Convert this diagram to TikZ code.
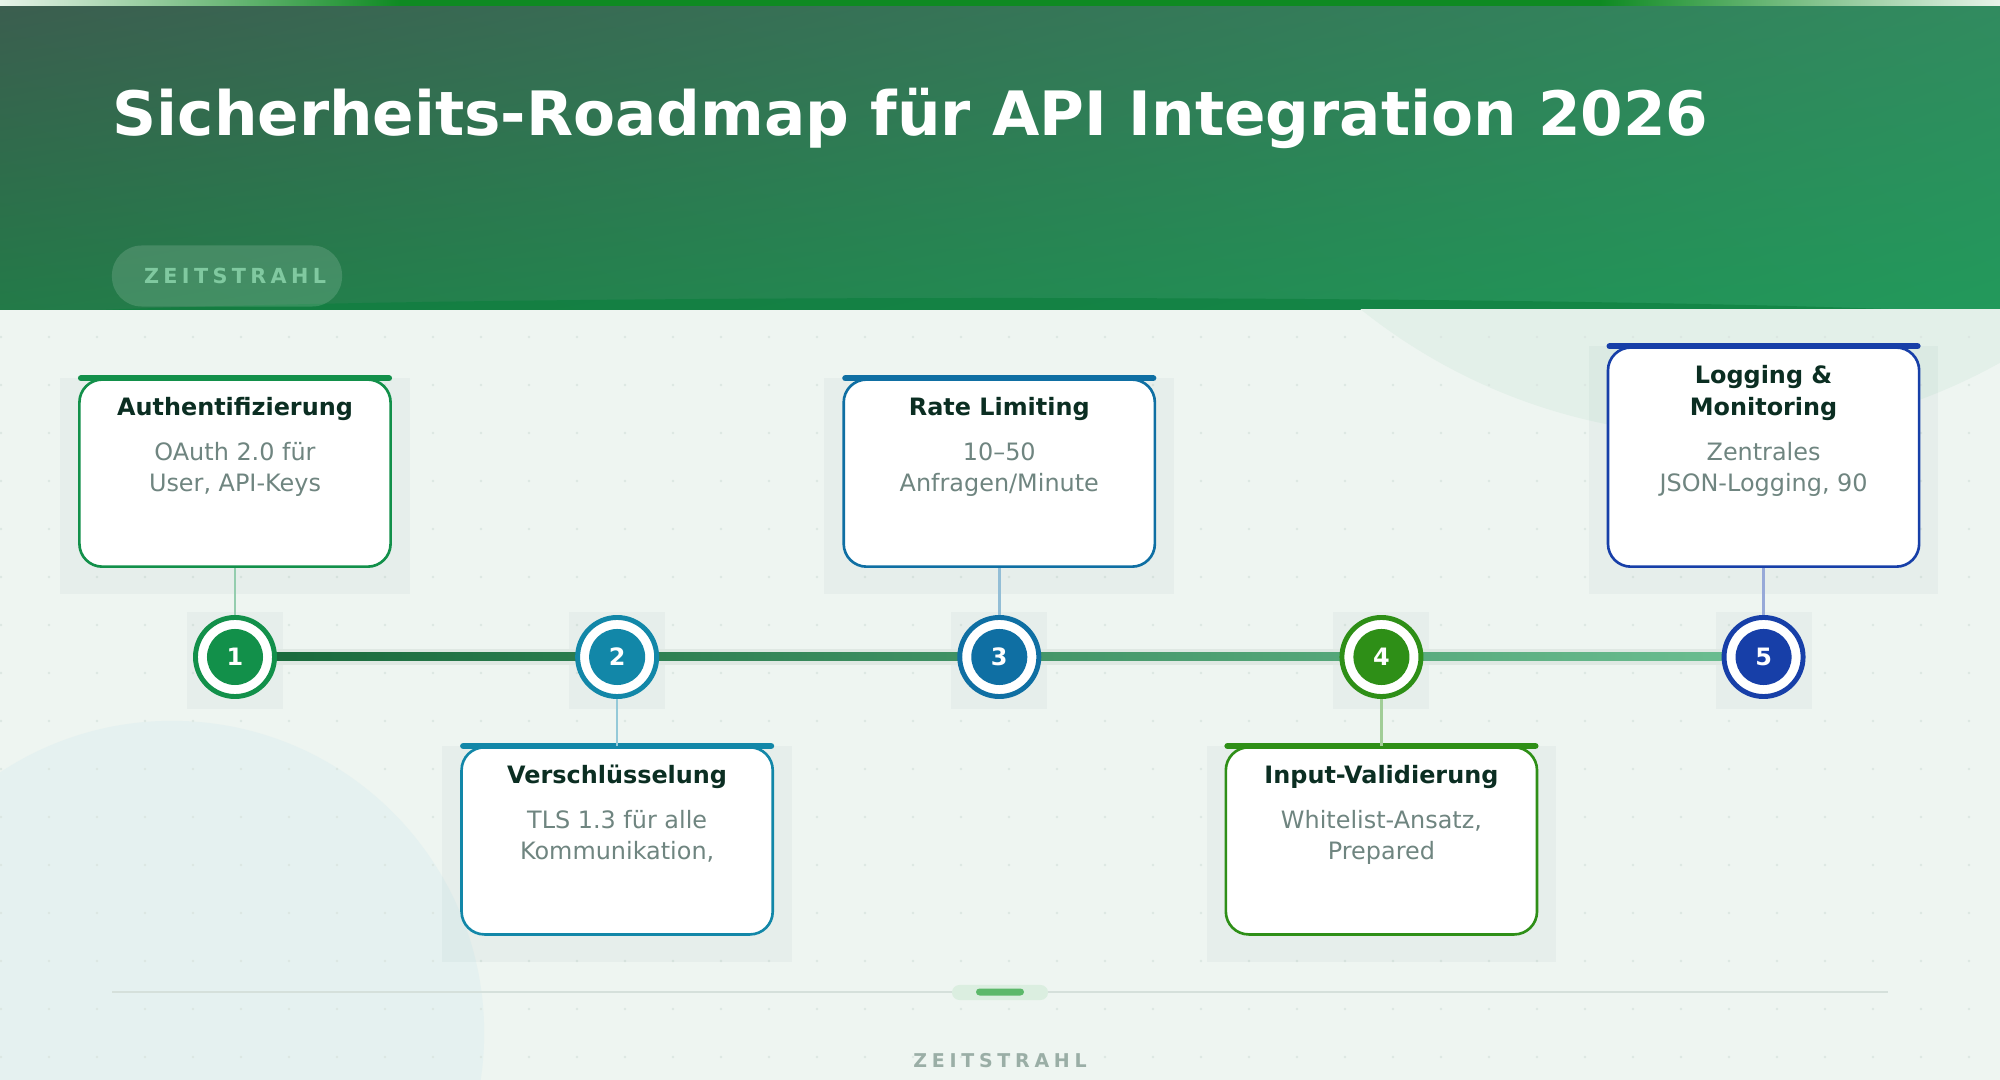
\documentclass[tikz,border=0pt]{standalone}
\usepackage{fontspec}
\setmainfont{DejaVu Sans}
\usepackage{tikz}
\usetikzlibrary{positioning, calc, backgrounds, shadings}

\definecolor{hdrTL}{HTML}{3B5E4F}
\definecolor{hdrTR}{HTML}{318B5F}
\definecolor{hdrBL}{HTML}{237A48}
\definecolor{hdrBR}{HTML}{22995B}
\definecolor{hdrband}{HTML}{0B7E3C}
\definecolor{stripe}{HTML}{0E8A22}
\definecolor{bodybg}{HTML}{EEF5F1}
\definecolor{blobA}{HTML}{E3F0E9}
\definecolor{blobB}{HTML}{E5F1F0}
\definecolor{dotgrid}{HTML}{DCE7E2}
\definecolor{colA}{HTML}{12904A}
\definecolor{colB}{HTML}{1287A8}
\definecolor{colC}{HTML}{0F6FA3}
\definecolor{colD}{HTML}{2E8F17}
\definecolor{colE}{HTML}{173FA8}
\definecolor{titletxt}{HTML}{0B2E22}
\definecolor{desctxt}{HTML}{6F8580}
\definecolor{pilltxt}{HTML}{80C9A0}
\definecolor{foottxt}{HTML}{9AAEA6}
\definecolor{trackL}{HTML}{17683A}
\definecolor{trackR}{HTML}{6CBF92}
\definecolor{trackbg}{HTML}{DFE8E3}
\definecolor{sepline}{HTML}{D5E0DB}
\definecolor{footpill}{HTML}{DBEEE0}
\definecolor{footbar}{HTML}{5CB86A}

\begin{document}
\begin{tikzpicture}[
    x=0.01cm, y=-0.01cm,
    node distance=0.47cm and 2.98cm,
    % Node Styles
    ring/.style={circle, draw=#1, fill=white, line width=1.4pt, minimum size=0.79cm, inner sep=0pt},
    dot/.style={circle, fill=#1, minimum size=0.56cm, inner sep=0pt, text=white, font=\bfseries\fontsize{6.8}{8}\selectfont},
    card/.style={rectangle, draw=#1, fill=white, line width=0.75pt, rounded corners=6.5pt, minimum width=3.11cm, minimum height=1.87cm, inner sep=0pt},
    topbar/.style={draw=#1, line width=1.8pt, line cap=round},
    link/.style={draw=#1!45, line width=0.7pt},
    ctitle/.style={font=\bfseries\fontsize{6.8}{9.1}\selectfont, text=titletxt, align=center, inner sep=0pt, anchor=base},
    cdesc/.style={font=\fontsize{6.8}{8.7}\selectfont, text=desctxt, align=center, inner sep=0pt, anchor=base},
    shadowbox/.style={fill=black!60!teal, opacity=0.03},
    pill/.style={rounded corners=8.5pt, fill=white, fill opacity=0.14, text opacity=1, minimum width=2.3cm, minimum height=0.61cm, text=pilltxt, font=\bfseries\fontsize{5.9}{7}\selectfont\addfontfeature{LetterSpace=21}},
    foot/.style={text=foottxt, font=\bfseries\fontsize{5.4}{7}\selectfont\addfontfeature{LetterSpace=25}}
]
\useasboundingbox (0,0) rectangle (2000,1080);

% --- 1. Backdrop ---
\begin{scope}[on background layer]
    % header
    \shade[upper left=hdrTL, upper right=hdrTR, lower left=hdrBL, lower right=hdrBR] (0,6) rectangle (2000,310);
    \fill[hdrband, opacity=0.6] (100,310) .. controls (500,294) and (1500,294) .. (1915,310) -- cycle;
    \shade[left color=white!90!stripe, right color=stripe] (0,0) rectangle (400,6);
    \fill[stripe] (400,0) rectangle (1600,6);
    \shade[left color=stripe, right color=white!90!stripe] (1600,0) rectangle (2000,6);
    % body
    \fill[bodybg] (0,310) rectangle (2000,1080);
    \begin{scope}
        \clip (0,310) rectangle (2000,1080);
        \fill[blobA] (1720,-140) circle[radius=5.75cm];
        \fill[blobB] (172,1033) circle[radius=3.12cm];
    \end{scope}
    \foreach \x in {1,49,...,1969}
        \foreach \y in {337,385,...,1057}
            \fill[dotgrid] (\x,\y) circle[radius=0.4pt];
\end{scope}

% --- 2. Header ---
\node[anchor=base west, inner sep=0pt, text=white, font=\bfseries\fontsize{17.4}{20}\selectfont] (title) at (112,136) {Sicherheits-Roadmap für API Integration 2026};
\node[pill, text width=2.3cm, align=right, inner xsep=0pt] (tag) at (227,276) {ZEITSTRAHL\hspace*{0.16cm}};

% --- 3. Milestones ---
\node[ring=colA] (s1) at (235,657) {};
\node[ring=colB, right=of s1] (s2) {};
\node[ring=colC, right=of s2] (s3) {};
\node[ring=colD, right=of s3] (s4) {};
\node[ring=colE, right=of s4] (s5) {};

\node[dot=colA] (n1) at (s1) {1};
\node[dot=colB] (n2) at (s2) {2};
\node[dot=colC] (n3) at (s3) {3};
\node[dot=colD] (n4) at (s4) {4};
\node[dot=colE] (n5) at (s5) {5};

% --- 4. Cards (alternating above / below) ---
\node[card=colA, above=of s1] (c1) {};
\node[card=colB, below=of s2] (c2) {};
\node[card=colC, above=of s3] (c3) {};
\node[card=colD, below=of s4] (c4) {};
\node[card=colE, above=of s5, minimum height=2.19cm] (c5) {};

\foreach \c/\col in {c1/colA, c2/colB, c3/colC, c4/colD, c5/colE}
    \draw[topbar=\col] ($(\c.north west)+(3,0)$) -- ($(\c.north east)+(-3,0)$);

% base anchor sits on the last line
\node[ctitle] (t1) at ($(c1.north)+(0,37)$) {Authentifizierung};
\node[cdesc] (d1) at ($(c1.north)+(0,113)$) {OAuth 2.0 für\\User, API-Keys};

\node[ctitle] (t2) at ($(c2.north)+(0,37)$) {Verschlüsselung};
\node[cdesc] (d2) at ($(c2.north)+(0,113)$) {TLS 1.3 für alle\\Kommunikation,};

\node[ctitle] (t3) at ($(c3.north)+(0,37)$) {Rate Limiting};
\node[cdesc] (d3) at ($(c3.north)+(0,113)$) {10–50\\Anfragen/Minute};

\node[ctitle] (t4) at ($(c4.north)+(0,37)$) {Input-Validierung};
\node[cdesc] (d4) at ($(c4.north)+(0,113)$) {Whitelist-Ansatz,\\Prepared};

\node[ctitle] (t5) at ($(c5.north)+(0,69)$) {Logging \&\\Monitoring};
\node[cdesc] (d5) at ($(c5.north)+(0,145)$) {Zentrales\\JSON-Logging, 90};

% --- Edges ---
\draw[link=colA] (c1) -- (s1);
\draw[link=colB] (c2) -- (s2);
\draw[link=colC] (c3) -- (s3);
\draw[link=colD] (c4) -- (s4);
\draw[link=colE] (c5) -- (s5);

% --- 5. Shadows and track ---
\begin{scope}[on background layer]
    \foreach \c in {c1,c2,c3,c4,c5}
        \fill[shadowbox] ($(\c.north west)+(-18,0)$) rectangle ($(\c.south east)+(18,26)$);
    \foreach \s in {s1,s2,s3,s4,s5}
        \fill[shadowbox] ($(\s.center)+(-48,-45)$) rectangle ($(\s.center)+(48,52)$);
    \fill[trackbg] ($(s1.center)+(0,-8)$) rectangle ($(s5.center)+(0,8)$);
    \shade[left color=trackL, right color=trackR] ($(s1.center)+(0,-4)$) rectangle ($(s5.center)+(0,4)$);
\end{scope}

% --- 6. Footer ---
\draw[sepline, line width=0.6pt] (112,992) -- (1888,992);
\fill[footpill, rounded corners=2.1pt] (952,985) rectangle (1048,1000);
\fill[footbar, rounded corners=1pt] (976,988.5) rectangle (1024,995.5);
\node[foot] (caption) at (1000,1061) {ZEITSTRAHL};

\end{tikzpicture}
\end{document}
